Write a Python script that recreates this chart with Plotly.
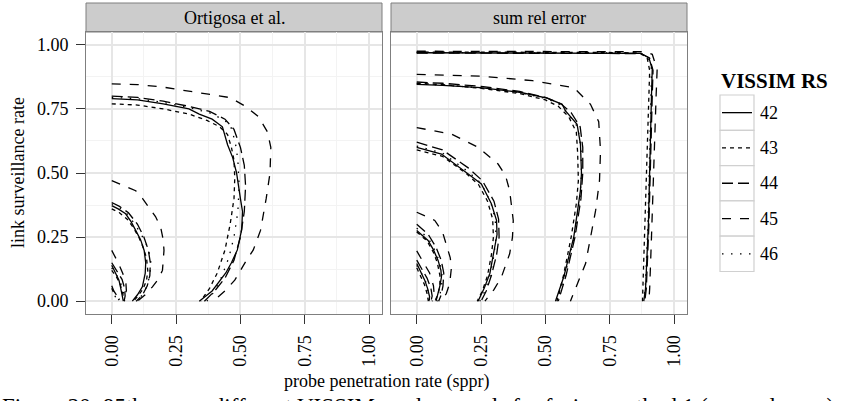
import plotly.graph_objects as go

# ---------------- data (contour lines) ----------------
seeds = ["42", "43", "44", "45", "46"]
panels = ["Ortigosa et al.", "sum rel error"]
tick_vals = [0, 0.25, 0.5, 0.75, 1.0]
tick_text = ["0.00", "0.25", "0.50", "0.75", "1.00"]
minor_vals = [0.125, 0.375, 0.625, 0.875]

# Panel 1: Ortigosa et al.  (segments separated by None)
ort_42_x = [0, 0.008, 0.018, None,
            0, 0.015, 0.028, 0.035, 0.04, 0.045, None,
            0, 0.025, 0.054, 0.075, 0.093, 0.112, 0.126, 0.132, 0.13, 0.119, 0.1, 0.08, None,
            0, 0.1, 0.2, 0.3, 0.34, 0.39, 0.43, 0.445, 0.45, 0.47, 0.485, 0.5, 0.508, 0.505, 0.488, 0.465, 0.443, 0.39, 0.34]
ort_42_y = [0.06, 0.04, 0.025, None,
            0.14, 0.11, 0.082, 0.05, 0.025, 0.0, None,
            0.373, 0.36, 0.341, 0.31, 0.276, 0.24, 0.198, 0.15, 0.108, 0.056, 0.025, 0.0, None,
            0.79, 0.785, 0.77, 0.75, 0.73, 0.71, 0.68, 0.63, 0.61, 0.56, 0.5, 0.4, 0.35, 0.28, 0.2, 0.15, 0.11, 0.04, 0.0]

ort_43_x = [0, 0.008, 0.015, None,
            0, 0.018, 0.032, 0.04, 0.045, 0.05, None,
            0, 0.03, 0.06, 0.085, 0.105, 0.12, 0.135, 0.14, 0.135, 0.12, 0.1, 0.085, None,
            0, 0.1, 0.2, 0.3, 0.37, 0.42, 0.45, 0.465, 0.475, 0.478, 0.475, 0.46, 0.44, 0.41, 0.38, 0.345]
ort_43_y = [0.05, 0.03, 0.015, None,
            0.12, 0.095, 0.07, 0.045, 0.02, 0.0, None,
            0.36, 0.345, 0.32, 0.285, 0.25, 0.215, 0.17, 0.12, 0.08, 0.045, 0.018, 0.0, None,
            0.77, 0.765, 0.75, 0.73, 0.705, 0.68, 0.65, 0.6, 0.55, 0.48, 0.4, 0.3, 0.2, 0.11, 0.05, 0.0]

ort_44_x = [0, 0.02, 0.04, 0.05, 0.052, 0.048, None,
            0, 0.03, 0.065, 0.1, 0.125, 0.142, 0.15, 0.148, 0.138, 0.12, 0.095, None,
            0, 0.1, 0.2, 0.3, 0.38, 0.44, 0.475, 0.5, 0.515, 0.52, 0.515, 0.5, 0.475, 0.44, 0.4, 0.36]
ort_44_y = [0.15, 0.12, 0.085, 0.05, 0.02, 0.0, None,
            0.385, 0.37, 0.345, 0.3, 0.25, 0.2, 0.15, 0.1, 0.06, 0.025, 0.0, None,
            0.8, 0.795, 0.78, 0.76, 0.74, 0.71, 0.67, 0.6, 0.53, 0.45, 0.35, 0.25, 0.16, 0.09, 0.04, 0.0]

ort_45_x = [0, 0.025, 0.043, 0.055, 0.057, 0.045, 0.025, None,
            0, 0.05, 0.093, 0.12, 0.145, 0.17, 0.19, 0.2, 0.203, 0.197, 0.18, 0.158, 0.13, 0.1, None,
            0, 0.1, 0.2, 0.3, 0.4, 0.46, 0.52, 0.57, 0.605, 0.618, 0.615, 0.6, 0.578, 0.55, 0.523, 0.478, 0.44, 0.394]
ort_45_y = [0.198, 0.15, 0.108, 0.07, 0.04, 0.02, 0.005, None,
            0.47, 0.45, 0.431, 0.4, 0.367, 0.33, 0.289, 0.24, 0.198, 0.12, 0.085, 0.056, 0.025, 0.0, None,
            0.848, 0.845, 0.835, 0.82, 0.805, 0.794, 0.76, 0.72, 0.66, 0.6, 0.5, 0.4, 0.276, 0.2, 0.159, 0.082, 0.04, 0.0]

ort_46_x = [0, 0.02, 0.035, 0.045, 0.05, None,
            0, 0.03, 0.06, 0.09, 0.115, 0.135, 0.148, 0.152, 0.148, 0.135, 0.115, 0.09, None,
            0, 0.1, 0.2, 0.3, 0.38, 0.43, 0.46, 0.48, 0.49, 0.495, 0.49, 0.475, 0.455, 0.425, 0.4, 0.37]
ort_46_y = [0.13, 0.1, 0.07, 0.035, 0.0, None,
            0.38, 0.365, 0.34, 0.3, 0.26, 0.22, 0.18, 0.15, 0.1, 0.055, 0.02, 0.0, None,
            0.795, 0.79, 0.775, 0.755, 0.735, 0.71, 0.69, 0.62, 0.55, 0.45, 0.35, 0.25, 0.17, 0.09, 0.04, 0.0]

# Panel 2: sum rel error
sre_42_x = [0, 0.015, 0.031, 0.042, 0.05, 0.047, None,
            0, 0.044, 0.065, 0.083, 0.094, 0.096, 0.09, 0.083, 0.075, None,
            0, 0.096, 0.2, 0.251, 0.29, 0.31, 0.312, 0.303, 0.284, 0.262, 0.245, 0.238, None,
            0, 0.1, 0.248, 0.4, 0.507, 0.565, 0.578, 0.623, 0.636, 0.64, 0.636, 0.63, 0.61, 0.571, 0.539, None,
            0, 0.2, 0.5, 0.75, 0.869, 0.902, 0.915, 0.912, 0.908, 0.9, 0.889, 0.882]
sre_42_y = [0.147, 0.115, 0.082, 0.05, 0.017, 0.0, None,
            0.276, 0.237, 0.2, 0.159, 0.12, 0.094, 0.06, 0.03, 0.0, None,
            0.6, 0.574, 0.496, 0.457, 0.38, 0.315, 0.26, 0.211, 0.108, 0.05, 0.017, 0.0, None,
            0.846, 0.842, 0.833, 0.815, 0.792, 0.768, 0.742, 0.69, 0.613, 0.5, 0.431, 0.39, 0.25, 0.094, 0.0, None,
            0.969, 0.969, 0.968, 0.968, 0.967, 0.95, 0.904, 0.8, 0.614, 0.3, 0.05, 0.0]

sre_43_x = [0, 0.015, 0.03, 0.04, 0.045, None,
            0, 0.04, 0.065, 0.08, 0.09, 0.09, 0.082, 0.07, None,
            0, 0.1, 0.19, 0.24, 0.275, 0.295, 0.298, 0.29, 0.275, 0.255, 0.235, None,
            0, 0.1, 0.25, 0.4, 0.5, 0.55, 0.59, 0.62, 0.625, 0.628, 0.62, 0.6, 0.57, 0.545, None,
            0, 0.2, 0.5, 0.75, 0.865, 0.895, 0.905, 0.902, 0.895, 0.888, 0.88, 0.877]
sre_43_y = [0.13, 0.1, 0.065, 0.03, 0.0, None,
            0.27, 0.235, 0.19, 0.15, 0.1, 0.06, 0.025, 0.0, None,
            0.59, 0.565, 0.5, 0.455, 0.39, 0.32, 0.25, 0.18, 0.1, 0.04, 0.0, None,
            0.85, 0.845, 0.83, 0.81, 0.785, 0.76, 0.72, 0.66, 0.58, 0.47, 0.38, 0.25, 0.1, 0.0, None,
            0.972, 0.972, 0.971, 0.97, 0.968, 0.95, 0.9, 0.8, 0.6, 0.3, 0.05, 0.0]

sre_44_x = [0, 0.02, 0.04, 0.055, 0.06, 0.055, None,
            0, 0.045, 0.075, 0.095, 0.105, 0.102, 0.095, 0.085, None,
            0, 0.1, 0.2, 0.255, 0.3, 0.318, 0.32, 0.31, 0.29, 0.27, 0.25, None,
            0, 0.1, 0.25, 0.4, 0.5, 0.56, 0.6, 0.635, 0.645, 0.645, 0.638, 0.615, 0.58, 0.55, None,
            0, 0.2, 0.5, 0.75, 0.872, 0.905, 0.918, 0.915, 0.91, 0.902, 0.892, 0.886]
sre_44_y = [0.16, 0.125, 0.09, 0.05, 0.02, 0.0, None,
            0.3, 0.26, 0.21, 0.16, 0.11, 0.06, 0.025, 0.0, None,
            0.62, 0.59, 0.52, 0.47, 0.39, 0.32, 0.25, 0.18, 0.1, 0.04, 0.0, None,
            0.855, 0.85, 0.838, 0.818, 0.795, 0.77, 0.735, 0.68, 0.6, 0.5, 0.4, 0.25, 0.1, 0.0, None,
            0.968, 0.968, 0.967, 0.967, 0.966, 0.948, 0.9, 0.8, 0.6, 0.3, 0.05, 0.0]

sre_45_x = [0, 0.025, 0.05, 0.065, 0.068, 0.06, None,
            0, 0.07, 0.1, 0.115, 0.13, 0.135, 0.128, 0.115, 0.096, None,
            0, 0.135, 0.239, 0.316, 0.345, 0.361, 0.375, 0.372, 0.361, 0.329, 0.3, 0.277, 0.265, None,
            0, 0.1, 0.248, 0.45, 0.61, 0.675, 0.707, 0.714, 0.71, 0.695, 0.656, 0.597, None,
            0, 0.2, 0.5, 0.75, 0.89, 0.915, 0.934, 0.93, 0.921, 0.912, 0.905, 0.902]
sre_45_y = [0.196, 0.155, 0.11, 0.06, 0.025, 0.0, None,
            0.347, 0.315, 0.27, 0.224, 0.17, 0.133, 0.069, 0.03, 0.0, None,
            0.677, 0.652, 0.6, 0.535, 0.49, 0.431, 0.315, 0.25, 0.185, 0.094, 0.045, 0.017, 0.0, None,
            0.885, 0.883, 0.878, 0.86, 0.833, 0.768, 0.7, 0.587, 0.47, 0.354, 0.147, 0.0, None,
            0.975, 0.975, 0.974, 0.974, 0.973, 0.963, 0.904, 0.8, 0.483, 0.25, 0.05, 0.0]

sre_46_x = [0, 0.018, 0.035, 0.045, 0.05, None,
            0, 0.045, 0.07, 0.088, 0.098, 0.097, 0.09, 0.08, None,
            0, 0.1, 0.2, 0.25, 0.288, 0.305, 0.308, 0.3, 0.285, 0.265, 0.245, None,
            0, 0.1, 0.25, 0.4, 0.505, 0.56, 0.585, 0.625, 0.638, 0.64, 0.634, 0.612, 0.575, 0.545, None,
            0, 0.2, 0.5, 0.75, 0.868, 0.9, 0.912, 0.91, 0.906, 0.898, 0.888, 0.88]
sre_46_y = [0.14, 0.11, 0.075, 0.035, 0.0, None,
            0.285, 0.245, 0.2, 0.155, 0.11, 0.06, 0.025, 0.0, None,
            0.605, 0.578, 0.505, 0.46, 0.385, 0.32, 0.25, 0.18, 0.1, 0.04, 0.0, None,
            0.848, 0.843, 0.832, 0.813, 0.79, 0.765, 0.735, 0.68, 0.6, 0.5, 0.4, 0.25, 0.1, 0.0, None,
            0.97, 0.97, 0.969, 0.969, 0.968, 0.95, 0.905, 0.8, 0.6, 0.3, 0.05, 0.0]

ort_series = {"42": (ort_42_x, ort_42_y), "43": (ort_43_x, ort_43_y), "44": (ort_44_x, ort_44_y),
              "45": (ort_45_x, ort_45_y), "46": (ort_46_x, ort_46_y)}
sre_series = {"42": (sre_42_x, sre_42_y), "43": (sre_43_x, sre_43_y), "44": (sre_44_x, sre_44_y),
              "45": (sre_45_x, sre_45_y), "46": (sre_46_x, sre_46_y)}

# ---------------- styling ----------------
DASH = {"42": "solid", "43": "4px,4px", "44": "11px,5px", "45": "9px,9px", "46": "1.5px,7.5px"}
FONT = "Liberation Serif"
W, H = 841, 401
L, R, T, B = 86, 154, 32, 87
PW, PH = W - L - R, H - T - B


def px(x):
    return (x - L) / PW


def py(y):
    return (T + PH - y) / PH


fig = go.Figure()
for s in seeds:
    for (xs, ys), xa, ya in ((ort_series[s], "x", "y"), (sre_series[s], "x2", "y2")):
        fig.add_trace(go.Scatter(x=xs, y=ys, xaxis=xa, yaxis=ya, mode="lines",
                                 line=dict(color="black", width=1.3, dash=DASH[s]),
                                 connectgaps=False, showlegend=False, name=s, hoverinfo="skip"))

d1 = [0, px(382)]
d2 = [px(391), 1]
axis_common = dict(showline=True, mirror=True, linecolor="#7f7f7f", linewidth=1,
                   showgrid=True, gridcolor="#e6e6e6", gridwidth=1.5, zeroline=False,
                   tickmode="array", tickvals=tick_vals, ticktext=tick_text,
                   minor=dict(tickmode="array", tickvals=minor_vals, showgrid=True,
                              gridcolor="#f3f3f3", gridwidth=1, ticks=""),
                   tickfont=dict(family=FONT, size=18, color="black"),
                   tickcolor="#333333", ticklen=9, tickwidth=1)
fig.update_layout(
    width=W, height=H, margin=dict(l=L, r=R, t=T, b=B, pad=0),
    paper_bgcolor="white", plot_bgcolor="white", showlegend=False,
    xaxis=dict(domain=d1, range=[-0.1, 1.05], anchor="y", ticks="outside", tickangle=-90,
               ticklabelstandoff=4, **axis_common),
    xaxis2=dict(domain=d2, range=[-0.1, 1.05], anchor="y2", ticks="outside", tickangle=-90,
                ticklabelstandoff=4, **axis_common),
    yaxis=dict(domain=[0, 1], range=[-0.05, 1.05], anchor="x", ticks="outside",
               ticklabelstandoff=4, **axis_common),
    yaxis2=dict(domain=[0, 1], range=[-0.05, 1.05], anchor="x2", ticks="",
                showticklabels=False, **axis_common),
)

shapes = []
annotations = []
# facet strips
for dom, label in ((d1, panels[0]), (d2, panels[1])):
    shapes.append(dict(type="rect", xref="paper", yref="paper", x0=dom[0], x1=dom[1],
                       y0=1, y1=py(3), fillcolor="#cccccc", line=dict(color="#7f7f7f", width=1),
                       layer="below"))
    annotations.append(dict(text=label, xref="paper", yref="paper", x=(dom[0] + dom[1]) / 2,
                            y=py(17.5), xanchor="center", yanchor="middle", showarrow=False,
                            font=dict(family=FONT, size=18, color="black")))

# axis titles
annotations.append(dict(text="probe penetration rate (sppr)", xref="paper", yref="paper",
                        x=px(386), y=py(381), xanchor="center", yanchor="middle", showarrow=False,
                        font=dict(family=FONT, size=18, color="black")))
annotations.append(dict(text="link surveillance rate", xref="paper", yref="paper",
                        x=px(18), y=py(173), xanchor="center", yanchor="middle", showarrow=False,
                        textangle=-90, font=dict(family=FONT, size=18, color="black")))

# legend (ggplot-style keys)
annotations.append(dict(text="<b>VISSIM RS</b>", xref="paper", yref="paper", x=px(719),
                        y=py(81), xanchor="left", yanchor="middle", showarrow=False,
                        font=dict(family=FONT, size=21, color="black")))
row_h = 35.3
for i, s in enumerate(seeds):
    top = 95 + i * row_h
    shapes.append(dict(type="rect", xref="paper", yref="paper", x0=px(720), x1=px(754),
                       y0=py(top + row_h), y1=py(top), fillcolor="white",
                       line=dict(color="#d0d0d0", width=1.2)))
    shapes.append(dict(type="line", xref="paper", yref="paper", x0=px(722), x1=px(752),
                       y0=py(top + row_h / 2), y1=py(top + row_h / 2),
                       line=dict(color="black", width=1.3, dash=DASH[s])))
    annotations.append(dict(text=s, xref="paper", yref="paper", x=px(758), y=py(top + row_h / 2),
                            xanchor="left", yanchor="middle", showarrow=False,
                            font=dict(family=FONT, size=18, color="black")))

# cut-off caption at the bottom (only its top edge is visible in the window)
annotations.append(dict(text="Figure 20: 95th across different VISSIM random seeds for fusion method 1 (sum rel error)",
                        xref="paper", yref="paper", x=px(0), y=py(392), xanchor="left",
                        yanchor="top", showarrow=False,
                        font=dict(family=FONT, size=23, color="black")))

fig.update_layout(shapes=shapes, annotations=annotations)
fig.write_html("out.html")
